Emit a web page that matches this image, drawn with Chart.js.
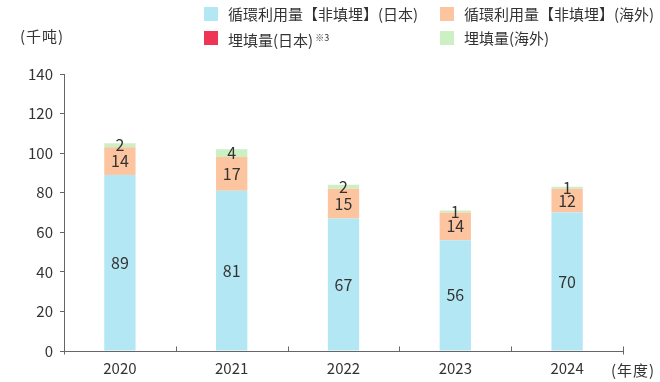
<!DOCTYPE html>
<html><head><meta charset="utf-8">
<script src="https://cdn.jsdelivr.net/npm/chart.js@4/dist/chart.umd.min.js"></script>
<style>
html,body{margin:0;padding:0;background:#fff;}
#wrap{position:relative;width:660px;height:382px;font-family:"Noto Sans CJK SC","Noto Sans",sans-serif;color:#333;}
canvas{position:absolute;left:0;top:0;}
.lg{position:absolute;font-size:15px;line-height:18px;white-space:nowrap;}
.sw{position:absolute;width:14px;height:14px;}
.ax{position:absolute;font-size:15px;line-height:18px;white-space:nowrap;letter-spacing:1px;}
sup{font-size:9px;vertical-align:5px;margin-left:2px;}
</style></head><body>
<div id="wrap">
<canvas id="c" width="660" height="382"></canvas>
<div class="sw" style="left:204px;top:7px;background:#b3e7f3"></div><div class="lg" style="left:228px;top:5px">循環利用量【非填埋】(日本)</div>
<div class="sw" style="left:440px;top:7px;background:#fdc4a0"></div><div class="lg" style="left:464px;top:5px">循環利用量【非填埋】(海外)</div>
<div class="sw" style="left:204px;top:31px;background:#ef3556"></div><div class="lg" style="left:228px;top:29px">埋填量(日本)<sup>※3</sup></div>
<div class="sw" style="left:440px;top:31px;background:#ccf0c4"></div><div class="lg" style="left:464px;top:29px">埋填量(海外)</div>
<div class="ax" style="left:20px;top:27px">(千吨)</div>
<div class="ax" style="left:611px;top:361px">(年度)</div>
</div>
<script>
const categories = ["2020","2021","2022","2023","2024"];
const recycleJapan = [89,81,67,56,70];
const recycleOverseas = [14,17,15,14,12];
const landfillJapan = [0,0,0,0,0];
const landfillOverseas = [2,4,2,1,1];
const yTicks = [0,20,40,60,80,100,120,140];

const labelPlugin = {
  id:'segLabels',
  afterDatasetsDraw(chart){
    const ctx = chart.ctx;
    ctx.save();
    ctx.font = '16px "Noto Sans CJK SC","Noto Sans",sans-serif';
    ctx.fillStyle = '#333';
    ctx.textAlign = 'center';
    ctx.textBaseline = 'middle';
    chart.data.datasets.forEach((ds,i)=>{
      const meta = chart.getDatasetMeta(i);
      meta.data.forEach((bar,j)=>{
        const v = ds.data[j];
        if(!v) return;
        const cy = (bar.y + bar.base)/2;
        ctx.fillText(String(v), bar.x, cy);
      });
    });
    ctx.restore();
  }
};

// inward category-boundary ticks on the x axis
const xTickPlugin = {
  id:'xInTicks',
  afterDraw(chart){
    const xs = chart.scales.x, ys = chart.scales.y;
    const ctx = chart.ctx;
    const base = Math.round(ys.getPixelForValue(0)) + 0.5;
    ctx.save();
    ctx.strokeStyle = '#666';
    ctx.lineWidth = 1;
    ctx.beginPath();
    for(let i=0;i<=categories.length;i++){
      const x = Math.round(xs.getPixelForValue(i-0.5)) + 0.5;
      ctx.moveTo(x, base-5);
      ctx.lineTo(x, base + (i===0||i===categories.length ? 3 : 0));
    }
    ctx.stroke();
    ctx.restore();
  }
};

const font = {family:'"Noto Sans CJK SC","Noto Sans",sans-serif', size:15};
new Chart(document.getElementById('c'),{
  type:'bar',
  data:{
    labels:categories,
    datasets:[
      {label:'循環利用量【非填埋】(日本)',data:recycleJapan,backgroundColor:'#b3e7f3'},
      {label:'循環利用量【非填埋】(海外)',data:recycleOverseas,backgroundColor:'#fdc4a0'},
      {label:'埋填量(日本)※3',data:landfillJapan,backgroundColor:'#ef3556'},
      {label:'埋填量(海外)',data:landfillOverseas,backgroundColor:'#ccf0c4'}
    ]
  },
  options:{
    responsive:false,
    animation:false,
    layout:{padding:{top:74,right:37,left:0,bottom:0}},
    datasets:{bar:{categoryPercentage:1,barPercentage:0.28}},
    plugins:{legend:{display:false},tooltip:{enabled:false}},
    scales:{
      x:{
        stacked:true,
        grid:{offset:true,drawOnChartArea:false,drawTicks:false},
        border:{color:'#666',width:1},
        ticks:{color:'#333',font:font,padding:8},
        afterFit(s){s.height=31;}
      },
      y:{
        stacked:true,min:0,max:140,
        afterBuildTicks(s){s.ticks=yTicks.map(v=>({value:v}));},
        grid:{drawOnChartArea:false,drawTicks:true,tickLength:4,color:'#666'},
        border:{color:'#666',width:1},
        ticks:{color:'#333',font:font,padding:7},
        afterFit(s){s.width=64;}
      }
    }
  },
  plugins:[labelPlugin,xTickPlugin]
});
</script>
</body></html>
